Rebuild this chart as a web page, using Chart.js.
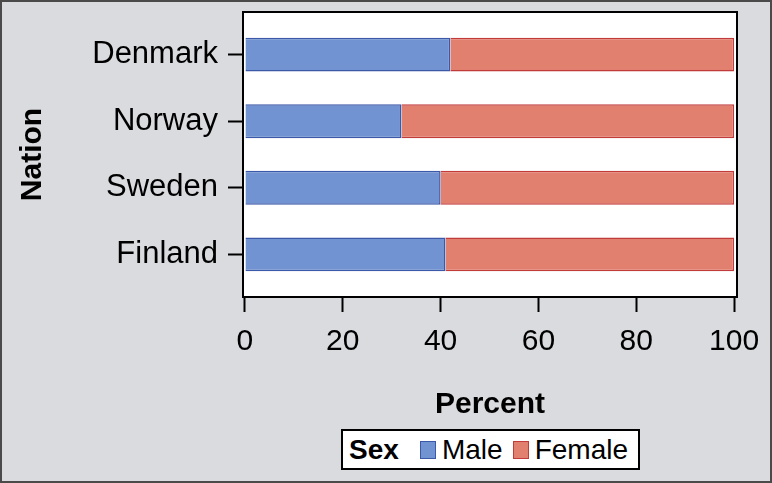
<!DOCTYPE html>
<html lang="en">
<head>
    <meta charset="UTF-8">
    <title>Sex by Nation</title>
    <script src="https://cdn.jsdelivr.net/npm/chart.js"></script>
    <style>
        html, body { margin: 0; padding: 0; background: #ffffff; }
        .frame {
            position: relative;
            width: 768px;
            height: 479px;
            background: #dadbdf;
            border: 2px solid #4a4a4a;
            overflow: hidden;
        }
        canvas { position: absolute; left: -2px; top: -2px; }
        .legend {
            position: absolute;
            left: 339px;
            top: 427px;
            width: 295px;
            height: 37px;
            border: 2px solid #000;
            background: #fff;
            display: flex;
            align-items: center;
            font-family: "Liberation Sans", Arial, sans-serif;
            font-size: 28px;
            color: #000;
        }
        .legend b { margin-left: 6px; margin-right: 21px; }
        .legend .sw { width: 16px; height: 16px; border: 1px solid; margin-right: 6px; }
        .legend .lbl { margin-right: 10px; }
    </style>
</head>
<body>
    <div class="frame">
        <canvas id="sexChart" width="772" height="483"></canvas>
        <div class="legend" id="legend"><b>Sex</b></div>
    </div>

    <script>
        // data
        const nations = ['Denmark', 'Norway', 'Sweden', 'Finland'];
        const seriesNames = ['Male', 'Female'];
        const malePct = [42, 32, 40, 41];
        const femalePct = [58, 68, 60, 59];
        const xTicks = [0, 20, 40, 60, 80, 100];

        const fills = ['#7193d1', '#e2806f'];
        const borders = ['#3c58a8', '#c23b3b'];
        const fontFamily = '"Liberation Sans", Arial, sans-serif';

        // white plot area with a black frame
        const plotFrame = {
            id: 'plotFrame',
            beforeDraw(chart) {
                const a = chart.chartArea, ctx = chart.ctx;
                ctx.save();
                ctx.fillStyle = '#ffffff';
                ctx.fillRect(a.left, a.top, a.right - a.left, a.bottom - a.top);
                ctx.restore();
            },
            afterDraw(chart) {
                const a = chart.chartArea, ctx = chart.ctx;
                ctx.save();
                ctx.strokeStyle = '#000';
                ctx.lineWidth = 2;
                ctx.strokeRect(a.left, a.top, a.right - a.left, a.bottom - a.top);
                ctx.restore();
            }
        };

        const ctx = document.getElementById('sexChart').getContext('2d');
        const chart = new Chart(ctx, {
            type: 'bar',
            data: {
                datasets: [
                    {
                        label: seriesNames[0],
                        data: malePct.map((v, i) => ({ x: v, y: i })),
                        backgroundColor: fills[0],
                        borderColor: borders[0],
                        borderWidth: 1.5
                    },
                    {
                        label: seriesNames[1],
                        data: femalePct.map((v, i) => ({ x: v, y: i })),
                        backgroundColor: fills[1],
                        borderColor: borders[1],
                        borderWidth: 1.5
                    }
                ]
            },
            options: {
                indexAxis: 'y',
                responsive: false,
                animation: false,
                categoryPercentage: 1,
                barPercentage: 0.51,
                layout: { padding: { top: 12, right: 35, bottom: 56, left: 0 } },
                plugins: { legend: { display: false }, tooltip: { enabled: false } },
                scales: {
                    x: {
                        type: 'linear',
                        stacked: true,
                        min: -0.4,
                        max: 100.6,
                        afterBuildTicks: s => { s.ticks = xTicks.map(v => ({ value: v })); },
                        afterFit: s => { s.height = 130; },
                        grid: { drawOnChartArea: false, tickLength: 15, tickWidth: 2, tickColor: '#000' },
                        border: { color: '#000', width: 2 },
                        ticks: { color: '#000', padding: 12, font: { family: fontFamily, size: 30 } },
                        title: {
                            display: true, text: 'Percent', color: '#000',
                            padding: { top: 0, bottom: 4 },
                            font: { family: fontFamily, size: 30, weight: 'bold' }
                        }
                    },
                    y: {
                        type: 'linear',
                        stacked: true,
                        reverse: true,
                        offset: false,
                        min: -0.64,
                        max: 3.64,
                        afterBuildTicks: s => { s.ticks = nations.map((n, i) => ({ value: i })); },
                        afterFit: s => { s.width = 243; s.paddingTop = 0; s.paddingBottom = 0; },
                        grid: { offset: false, drawOnChartArea: false, tickLength: 15, tickWidth: 2, tickColor: '#000' },
                        border: { color: '#000', width: 2 },
                        ticks: {
                            color: '#000', padding: 10,
                            font: { family: fontFamily, size: 31 },
                            callback: v => nations[v]
                        },
                        title: {
                            display: true, text: 'Nation', color: '#000',
                            padding: 15,
                            font: { family: fontFamily, size: 30, weight: 'bold' }
                        }
                    }
                }
            },
            plugins: [plotFrame]
        });

        // legend row built from the series
        const legend = document.getElementById('legend');
        seriesNames.forEach((name, i) => {
            const sw = document.createElement('span');
            sw.className = 'sw';
            sw.style.background = fills[i];
            sw.style.borderColor = borders[i];
            const lbl = document.createElement('span');
            lbl.className = 'lbl';
            lbl.textContent = name;
            legend.appendChild(sw);
            legend.appendChild(lbl);
        });
    </script>
</body>
</html>
